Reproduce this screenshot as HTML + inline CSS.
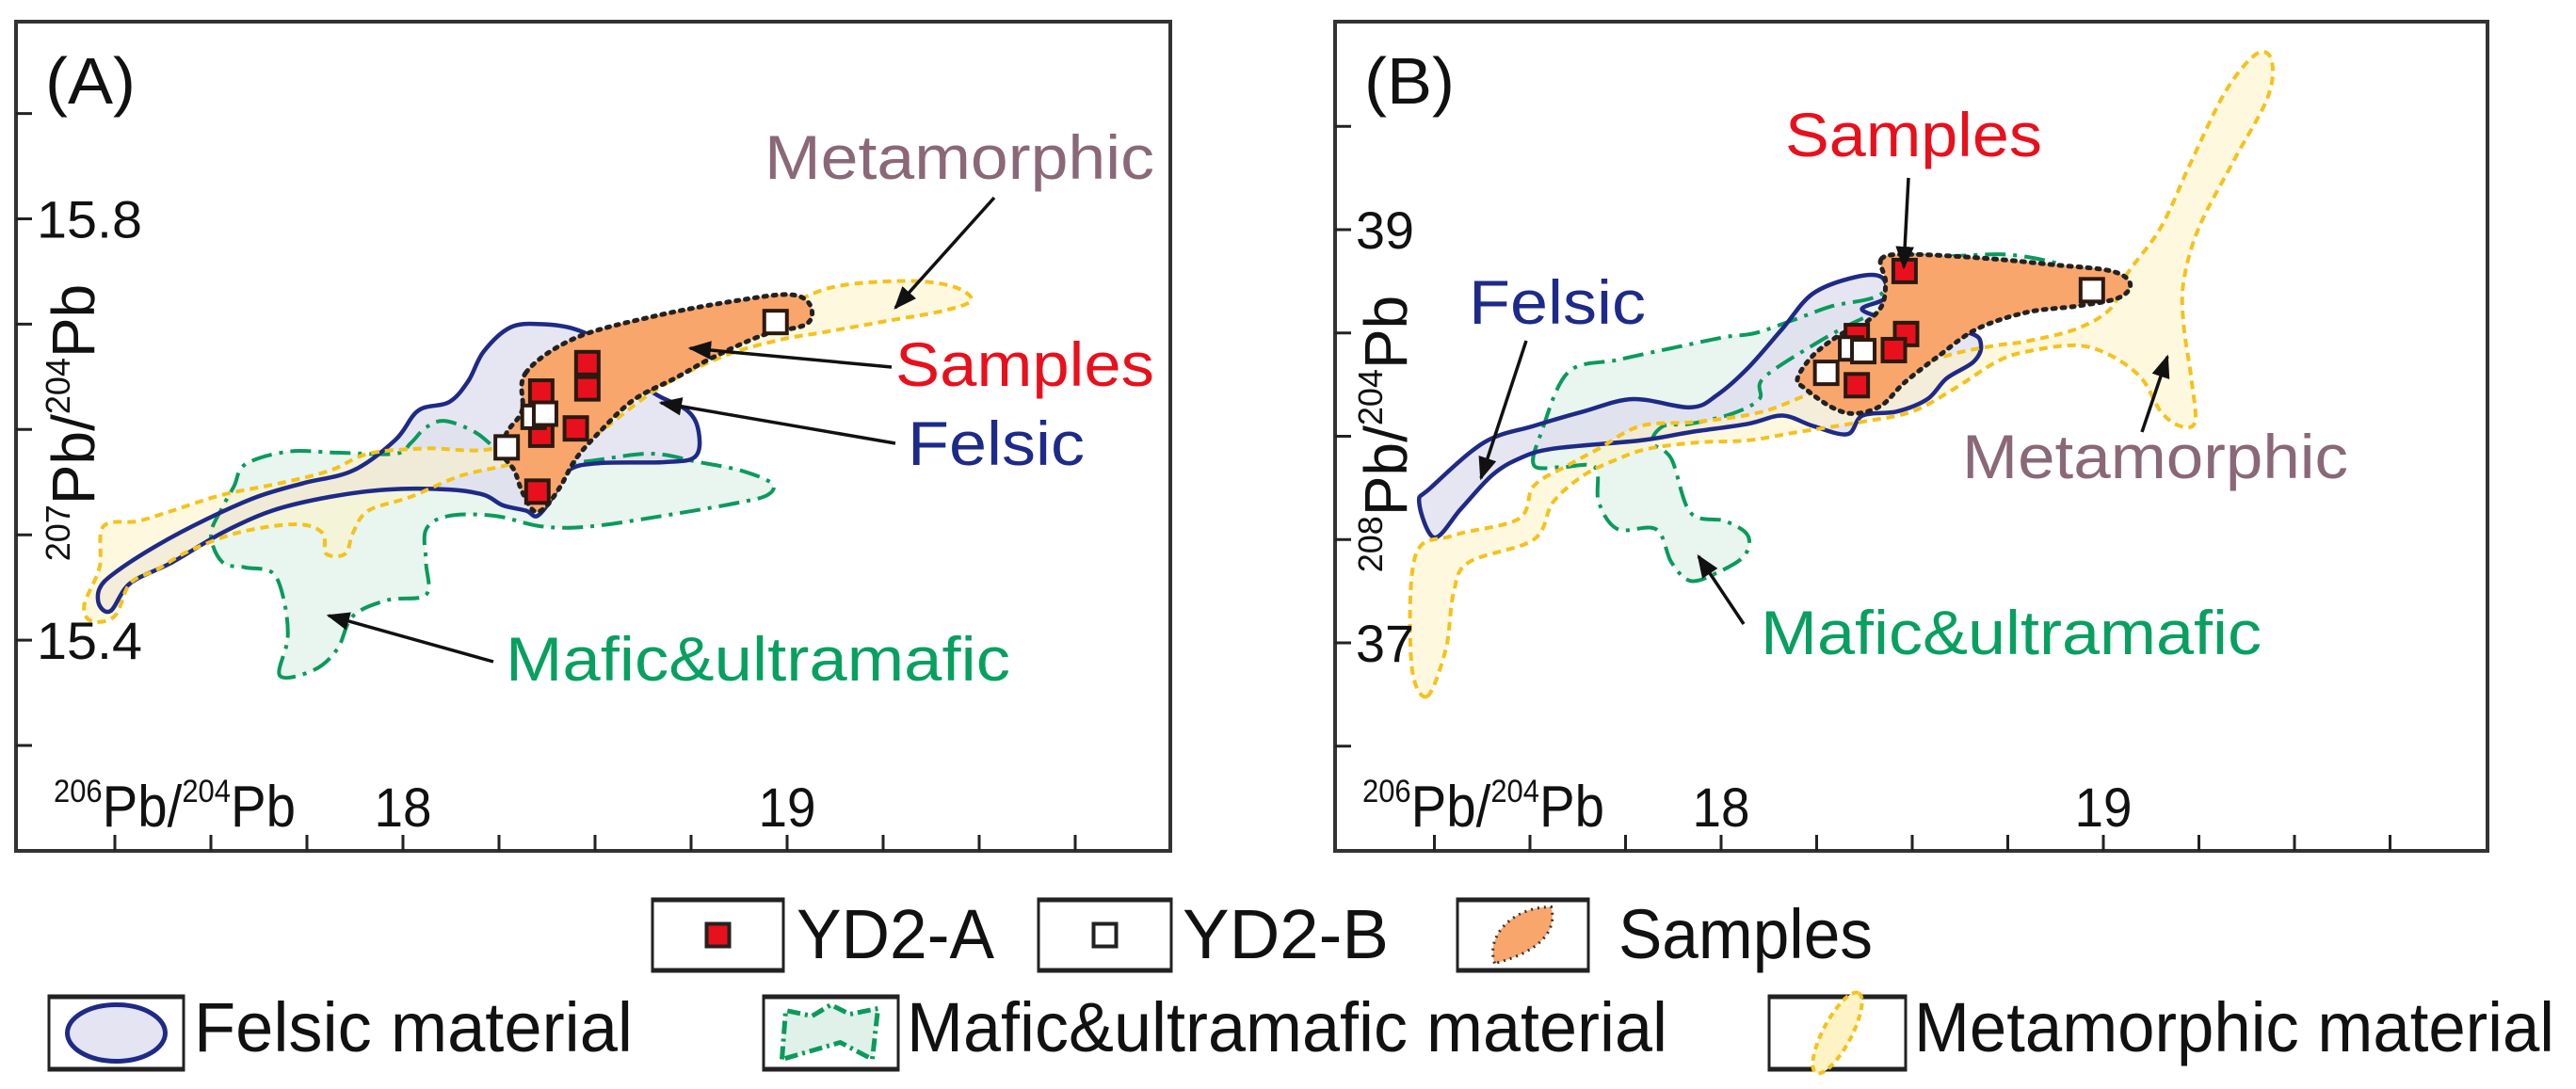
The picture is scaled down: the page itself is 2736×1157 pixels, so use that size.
<!DOCTYPE html>
<html><head><meta charset="utf-8">
<style>
html,body{margin:0;padding:0;background:#fff;}
svg{display:block;font-family:"Liberation Sans Narrow","Liberation Sans",sans-serif;}
</style></head>
<body>
<svg id="fig" xmlns="http://www.w3.org/2000/svg" width="2736" height="1157" viewBox="0 0 2736 1157">
<defs>
<marker id="ah" viewBox="0 0 10 10" refX="9" refY="5" markerWidth="7" markerHeight="7" orient="auto-start-reverse"><path d="M0,1 L10,5 L0,9 Z" fill="#111"/></marker>
</defs>
<g id="panelA"></g>
<g id="panelB"></g>
<g id="legend"></g>
</svg>
<script>
// ---- data ----
const xTicks = [17.25,17.5,17.75,18,18.25,18.5,18.75,19,19.25,19.5,19.75];
const xTickLabels = ["18","19"];
const xLabelVals = [18,19];
const yTicksA = [15.9,15.8,15.7,15.6,15.5,15.4,15.3];
const yLabelValsA = [15.8,15.4];
const yTicksB = [39.5,39,38.5,38,37.5,37,36.5];
const yLabelValsB = [39,37];

const ydaA_x = [18.48,18.48,18.36,18.36,18.45,18.35];
const ydaA_y = [15.663,15.639,15.636,15.595,15.601,15.541];
const ydbA_x = [18.97,18.34,18.37,18.27];
const ydbA_y = [15.702,15.612,15.615,15.583];
const ydaB_x = [18.48,18.355,18.484,18.452,18.355];
const ydaB_y = [38.80,38.485,38.495,38.417,38.247];
const ydbB_x = [18.97,18.34,18.372,18.275];
const ydbB_y = [38.707,38.425,38.412,38.307];

const samplesA = [[18.32,15.654],[18.45,15.687],[18.66,15.708],[18.88,15.723],[19.01,15.728],[19.06,15.718],[19.05,15.700],[18.94,15.690],[18.81,15.669],[18.71,15.649],[18.60,15.628],[18.51,15.597],[18.45,15.572],[18.41,15.546],[18.37,15.526],[18.34,15.523],[18.31,15.541],[18.29,15.561],[18.26,15.577],[18.27,15.597],[18.31,15.618]];
const felsicA = [[17.21,15.449],[17.25,15.464],[17.36,15.490],[17.49,15.515],[17.62,15.536],[17.74,15.549],[17.87,15.561],[17.98,15.590],[18.04,15.618],[18.12,15.626],[18.17,15.646],[18.21,15.674],[18.28,15.697],[18.36,15.700],[18.45,15.695],[18.53,15.679],[18.64,15.638],[18.74,15.618],[18.77,15.597],[18.76,15.574],[18.68,15.569],[18.51,15.568],[18.43,15.561],[18.39,15.536],[18.35,15.518],[18.32,15.523],[18.26,15.528],[18.21,15.538],[18.12,15.543],[17.96,15.543],[17.81,15.536],[17.66,15.523],[17.53,15.502],[17.40,15.474],[17.29,15.454],[17.24,15.428],[17.21,15.433]];
const maficA = [[17.68,15.366],[17.70,15.402],[17.69,15.438],[17.66,15.464],[17.59,15.469],[17.53,15.474],[17.50,15.500],[17.53,15.526],[17.56,15.546],[17.59,15.567],[17.70,15.579],[17.83,15.578],[17.98,15.577],[18.02,15.587],[18.06,15.602],[18.11,15.608],[18.19,15.597],[18.26,15.577],[18.32,15.574],[18.45,15.569],[18.64,15.577],[18.77,15.569],[18.88,15.561],[18.96,15.549],[18.95,15.538],[18.88,15.531],[18.71,15.520],[18.49,15.508],[18.36,15.508],[18.24,15.518],[18.12,15.518],[18.06,15.505],[18.06,15.474],[18.06,15.443],[17.96,15.438],[17.87,15.423],[17.83,15.392],[17.77,15.372]];
const metaA = [[17.19,15.418],[17.17,15.433],[17.21,15.469],[17.22,15.508],[17.31,15.513],[17.40,15.523],[17.53,15.538],[17.68,15.549],[17.81,15.561],[17.91,15.577],[18.06,15.582],[18.24,15.582],[18.45,15.610],[18.66,15.649],[18.88,15.700],[19.01,15.720],[19.13,15.736],[19.31,15.741],[19.43,15.736],[19.48,15.723],[19.41,15.713],[19.26,15.703],[19.09,15.692],[18.98,15.685],[18.83,15.669],[18.66,15.638],[18.49,15.592],[18.41,15.582],[18.28,15.567],[18.15,15.556],[18.02,15.536],[17.91,15.523],[17.87,15.502],[17.85,15.482],[17.80,15.482],[17.79,15.502],[17.72,15.510],[17.57,15.502],[17.44,15.484],[17.36,15.467],[17.29,15.454],[17.25,15.423]];

const samplesB = [[18.42,38.86],[18.50,38.88],[18.70,38.86],[18.87,38.83],[19.02,38.80],[19.07,38.74],[19.04,38.67],[18.93,38.63],[18.80,38.60],[18.67,38.52],[18.57,38.39],[18.48,38.26],[18.42,38.15],[18.35,38.11],[18.29,38.14],[18.22,38.23],[18.20,38.28],[18.24,38.39],[18.31,38.49],[18.37,38.54],[18.42,38.63],[18.43,38.75]];
const felsicB = [[17.21,37.68],[17.24,37.75],[17.38,37.97],[17.51,38.05],[17.64,38.12],[17.77,38.18],[17.92,38.14],[17.99,38.20],[18.07,38.33],[18.16,38.52],[18.24,38.69],[18.35,38.77],[18.42,38.77],[18.43,38.67],[18.37,38.61],[18.50,38.54],[18.65,38.50],[18.68,38.44],[18.66,38.36],[18.59,38.28],[18.54,38.18],[18.46,38.12],[18.37,38.10],[18.33,38.01],[18.24,38.05],[18.16,38.10],[18.07,38.06],[17.92,38.02],[17.79,37.98],[17.56,37.94],[17.47,37.89],[17.40,37.81],[17.32,37.65],[17.25,37.51]];
const maficB = [[17.51,37.86],[17.53,38.02],[17.60,38.31],[17.73,38.37],[17.88,38.43],[18.01,38.48],[18.09,38.50],[18.20,38.57],[18.29,38.63],[18.42,38.69],[18.46,38.86],[18.59,38.87],[18.74,38.88],[18.85,38.85],[18.87,38.82],[18.70,38.75],[18.50,38.65],[18.37,38.57],[18.24,38.44],[18.11,38.28],[18.10,38.18],[18.03,38.11],[17.92,38.06],[17.85,38.05],[17.82,37.97],[17.87,37.89],[17.92,37.63],[18.01,37.59],[18.07,37.52],[18.06,37.42],[17.99,37.34],[17.92,37.30],[17.87,37.39],[17.83,37.55],[17.73,37.55],[17.68,37.68],[17.67,37.85],[17.58,37.85]];
const metaB = [[17.23,36.74],[17.19,36.90],[17.20,37.42],[17.30,37.52],[17.47,37.60],[17.51,37.76],[17.60,37.86],[17.68,37.94],[17.79,38.05],[17.94,38.07],[18.11,38.12],[18.27,38.23],[18.42,38.28],[18.59,38.39],[18.72,38.44],[18.80,38.46],[18.93,38.52],[19.02,38.62],[19.06,38.78],[19.15,39.01],[19.23,39.33],[19.32,39.67],[19.40,39.85],[19.44,39.82],[19.43,39.64],[19.34,39.33],[19.25,39.01],[19.21,38.75],[19.21,38.54],[19.23,38.28],[19.24,38.07],[19.20,38.05],[19.15,38.12],[19.10,38.28],[19.02,38.39],[18.93,38.44],[18.80,38.41],[18.72,38.36],[18.61,38.23],[18.50,38.12],[18.37,38.07],[18.20,38.02],[18.07,37.98],[17.94,37.97],[17.81,37.94],[17.73,37.89],[17.64,37.81],[17.56,37.68],[17.51,37.50],[17.34,37.39],[17.30,37.24],[17.28,36.97]];

// ---- helpers ----
const NS = "http://www.w3.org/2000/svg";
function mk(parent, tag, attrs, text){
  const e = document.createElementNS(NS, tag);
  for (const k in attrs) e.setAttribute(k, attrs[k]);
  if (text !== undefined) e.textContent = text;
  parent.appendChild(e);
  return e;
}
function smooth(pts){
  const n = pts.length; let d = "M"+pts[0][0].toFixed(1)+","+pts[0][1].toFixed(1);
  for (let i=0;i<n;i++){
    const p0=pts[(i-1+n)%n], p1=pts[i], p2=pts[(i+1)%n], p3=pts[(i+2)%n];
    const c1=[p1[0]+(p2[0]-p0[0])/6, p1[1]+(p2[1]-p0[1])/6];
    const c2=[p2[0]-(p3[0]-p1[0])/6, p2[1]-(p3[1]-p1[1])/6];
    d+=" C"+c1[0].toFixed(1)+","+c1[1].toFixed(1)+" "+c2[0].toFixed(1)+","+c2[1].toFixed(1)+" "+p2[0].toFixed(1)+","+p2[1].toFixed(1);
  }
  return d+"Z";
}

function drawPanel(g, cfg){
  const {L,R,T,B,sx,sy,yTicks,yLabelVals,regions,ptsA,ptsB,title,ylabel,ylx,yly,xlabX} = cfg;
  const frame = mk(g,"rect",{x:L,y:T,width:R-L,height:B-T,fill:"#fff",stroke:"#333",'stroke-width':4});
  
  
  const styles = {
    mafic:{fill:"#dff1e8",op:0.7,stroke:"#0b9a5c",dash:"22 8 4 8",w:4},
    felsic:{fill:"#dcdcee",op:0.7,stroke:"#1e2a86",dash:"",w:4.5},
    meta:{fill:"#fdf3c4",op:0.55,stroke:"#f4c21c",dash:"9 6",w:4},
    samples:{fill:"#f9a66c",op:1,stroke:"#222",dash:"3 7",w:5}
  };
  const order = ["mafic","felsic","meta"];
  // fills first
  order.forEach(k=>{
    const pts = regions[k].map(p=>[sx(p[0]),sy(p[1])]);
    const s = styles[k];
    const p = mk(g,"path",{d:smooth(pts),fill:s.fill,'fill-opacity':s.op,stroke:"none"});
    
    
  });
  // outlines
  order.forEach(k=>{
    const pts = regions[k].map(p=>[sx(p[0]),sy(p[1])]);
    const s = styles[k];
    const p = mk(g,"path",{d:smooth(pts),fill:"none",stroke:s.stroke,'stroke-width':s.w,'stroke-dasharray':s.dash,'stroke-linejoin':"round"});
    
    
  });
  {
    const pts = regions.samples.map(p=>[sx(p[0]),sy(p[1])]);
    const s = styles.samples;
    const p = mk(g,"path",{d:smooth(pts),fill:s.fill,stroke:s.stroke,'stroke-width':s.w,'stroke-dasharray':s.dash,'stroke-linecap':"round",'stroke-linejoin':"round"});
    
    
  }
  ptsA[0].forEach((v,i)=>{
    const r = mk(g,"rect",{x:sx(v)-12,y:sy(ptsA[1][i])-12,width:24,height:24,fill:"#e8101c",stroke:"#2a1a10",'stroke-width':4});
    
    
  });
  ptsB[0].forEach((v,i)=>{
    const r = mk(g,"rect",{x:sx(v)-12,y:sy(ptsB[1][i])-12,width:24,height:24,fill:"#fff",stroke:"#2a1a10",'stroke-width':4});
    
    
  });
  xTicks.forEach(v=>{
    const t = mk(g,"line",{x1:sx(v),x2:sx(v),y1:B,y2:B-17,stroke:"#222",'stroke-width':3});
    
    
  });
  yTicks.forEach(v=>{
    const t = mk(g,"line",{x1:L,x2:L+17,y1:sy(v),y2:sy(v),stroke:"#222",'stroke-width':3});
    
    
  });
  xLabelVals.forEach((v,i)=>{
    const t = mk(g,"text",{x:sx(v),y:878,'text-anchor':"middle",'font-size':58,fill:"#111",textLength:61,lengthAdjust:"spacingAndGlyphs"},xTickLabels[i]);
    
    
  });
  yLabelVals.forEach(v=>{
    const s = String(v);
    const t = mk(g,"text",{x:L+22,y:sy(v)+20,'font-size':56,fill:"#111",textLength:s.length>2?112:62,lengthAdjust:"spacingAndGlyphs"},s);
    
    
  });
  const tt = mk(g,"text",{x:L+31,y:110,'font-size':70,fill:"#111",textLength:96,lengthAdjust:"spacingAndGlyphs"},title);
  
  
  const xl = mk(g,"text",{x:xlabX,y:878,'font-size':62,fill:"#111"});
  
  
  mk(xl,"tspan",{'font-size':34,dy:-26},"206");
  mk(xl,"tspan",{dy:26},"Pb/");
  mk(xl,"tspan",{'font-size':34,dy:-26},"204");
  mk(xl,"tspan",{dy:26},"Pb");
  xl.setAttribute('textLength',257);
  xl.setAttribute('lengthAdjust','spacingAndGlyphs');
  const yl = mk(g,"text",{x:ylx,y:yly,'font-size':64,fill:"#111",'text-anchor':"middle",transform:`rotate(-90 ${ylx} ${yly})`});
  
  
  mk(yl,"tspan",{'font-size':36,dy:-26},ylabel);
  mk(yl,"tspan",{dy:26},"Pb/");
  mk(yl,"tspan",{'font-size':36,dy:-26},"204");
  mk(yl,"tspan",{dy:26},"Pb");
  cfg.notes.forEach(n=>{
    const t = mk(g,"text",{x:n.x,y:n.y,'font-size':66,fill:n.c,textLength:n.w,lengthAdjust:"spacingAndGlyphs"},n.t);
    
    
    const a = mk(g,"line",{x1:n.a[0],y1:n.a[1],x2:n.a[2],y2:n.a[3],stroke:"#111",'stroke-width':3.5,'marker-end':"url(#ah)"});
    
    
  });
}

const sxA = v=>428+(v-18)*408, syA = v=>232.5-(v-15.8)*1119;
const sxB = v=>1828+(v-18)*406, syB = v=>244-(v-39)*219.5;

drawPanel(document.getElementById('panelA'),{
  L:17,R:1243,T:23,B:904,sx:sxA,sy:syA,yTicks:yTicksA,yLabelVals:yLabelValsA,
  regions:{samples:samplesA,felsic:felsicA,mafic:maficA,meta:metaA},
  ptsA:[ydaA_x,ydaA_y],ptsB:[ydbA_x,ydbA_y],title:"(A)",ylabel:"207",ylx:100,yly:449,xlabX:57,
  notes:[
    {t:"Metamorphic",x:812,y:190,w:414,c:"#8a6878",name:"metamorphic",a:[1056,210,951,327]},
    {t:"Samples",x:951,y:410,w:275,c:"#e8101c",name:"samples",a:[947,390,733,370]},
    {t:"Felsic",x:964,y:494,w:188,c:"#1e2a8a",name:"felsic",a:[951,471,702,428]},
    {t:"Mafic&ultramafic",x:537,y:723,w:536,c:"#08a060",name:"mafic",a:[524,703,349,654]}
  ]
});
drawPanel(document.getElementById('panelB'),{
  L:1418,R:2642,T:23,B:904,sx:sxB,sy:syB,yTicks:yTicksB,yLabelVals:yLabelValsB,
  regions:{samples:samplesB,felsic:felsicB,mafic:maficB,meta:metaB},
  ptsA:[ydaB_x,ydaB_y],ptsB:[ydbB_x,ydbB_y],title:"(B)",ylabel:"208",ylx:1494,yly:461,xlabX:1447,
  notes:[
    {t:"Samples",x:1896,y:166,w:273,c:"#e8101c",name:"samples",a:[2027,189,2022,284]},
    {t:"Felsic",x:1560,y:344,w:188,c:"#1e2a8a",name:"felsic",a:[1621,362,1573,508]},
    {t:"Metamorphic",x:2084,y:508,w:410,c:"#8a6878",name:"metamorphic",a:[2275,459,2302,379]},
    {t:"Mafic&ultramafic",x:1870,y:695,w:532,c:"#08a060",name:"mafic",a:[1852,663,1804,591]}
  ]
});

// ---- legend ----
const lg = document.getElementById('legend');
const legendItems = [
  {x:693,y:955,w:139,h:77,tx:846,ty:1018,tw:210,t:"YD2-A",k:"yda"},
  {x:1103,y:955,w:141,h:77,tx:1256,ty:1018,tw:219,t:"YD2-B",k:"ydb"},
  {x:1548,y:955,w:139,h:77,tx:1719,ty:1018,tw:270,t:"Samples",k:"samples"},
  {x:52,y:1058,w:143,h:79,tx:206,ty:1117,tw:466,t:"Felsic material",k:"felsic"},
  {x:811,y:1058,w:143,h:79,tx:963,ty:1117,tw:808,t:"Mafic&ultramafic material",k:"mafic"},
  {x:1879,y:1058,w:145,h:79,tx:2033,ty:1117,tw:680,t:"Metamorphic material",k:"meta"}
];
legendItems.forEach(it=>{
  const g = mk(lg,"g",{});
  
  
  mk(g,"rect",{x:it.x,y:it.y,width:it.w,height:it.h,fill:"#fff",stroke:"#222",'stroke-width':3});
  mk(g,"line",{x1:it.x,x2:it.x+it.w,y1:it.y+1,y2:it.y+1,stroke:"#222",'stroke-width':5});
  mk(g,"line",{x1:it.x,x2:it.x+it.w,y1:it.y+it.h-1,y2:it.y+it.h-1,stroke:"#222",'stroke-width':5});
  const cx = it.x+it.w/2, cy = it.y+it.h/2;
  if (it.k==="yda") mk(g,"rect",{x:cx-12,y:cy-12,width:24,height:24,fill:"#e8101c",stroke:"#222",'stroke-width':4});
  if (it.k==="ydb") mk(g,"rect",{x:cx-12,y:cy-12,width:24,height:24,fill:"#fff",stroke:"#222",'stroke-width':4});
  if (it.k==="samples") mk(g,"path",{d:`M${cx-30},${cy+30} C${cx-40},${cy} ${cx-10},${cy-30} ${cx+30},${cy-30} C${cx+38},${cy} ${cx+10},${cy+20} ${cx-30},${cy+30}Z`,fill:"#f9a66c",stroke:"#333",'stroke-width':3,'stroke-dasharray':"2 5"});
  if (it.k==="felsic") mk(g,"ellipse",{cx:cx,cy:cy,rx:52,ry:30,fill:"#e4e4f2",stroke:"#1e2a86",'stroke-width':5});
  if (it.k==="mafic") mk(g,"path",{d:`M${cx-52},${cy+28} L${cx-48},${cy-24} L${cx-20},${cy-18} L${cx},${cy-30} L${cx+20},${cy-20} L${cx+50},${cy-26} L${cx+44},${cy+28} L${cx+10},${cy+10} Z`,fill:"#dff1e8",stroke:"#0b9a5c",'stroke-width':5,'stroke-dasharray':"14 5 3 5"});
  if (it.k==="meta") mk(g,"ellipse",{cx:cx,cy:cy,rx:48,ry:15,transform:`rotate(-62 ${cx} ${cy})`,fill:"#fdf3c4",stroke:"#f4c21c",'stroke-width':4,'stroke-dasharray':"7 5"});
  const t = mk(g,"text",{x:it.tx,y:it.ty,'font-size':74,fill:"#111",textLength:it.tw,lengthAdjust:"spacingAndGlyphs"},it.t);
  
  
});
</script>
</body></html>
